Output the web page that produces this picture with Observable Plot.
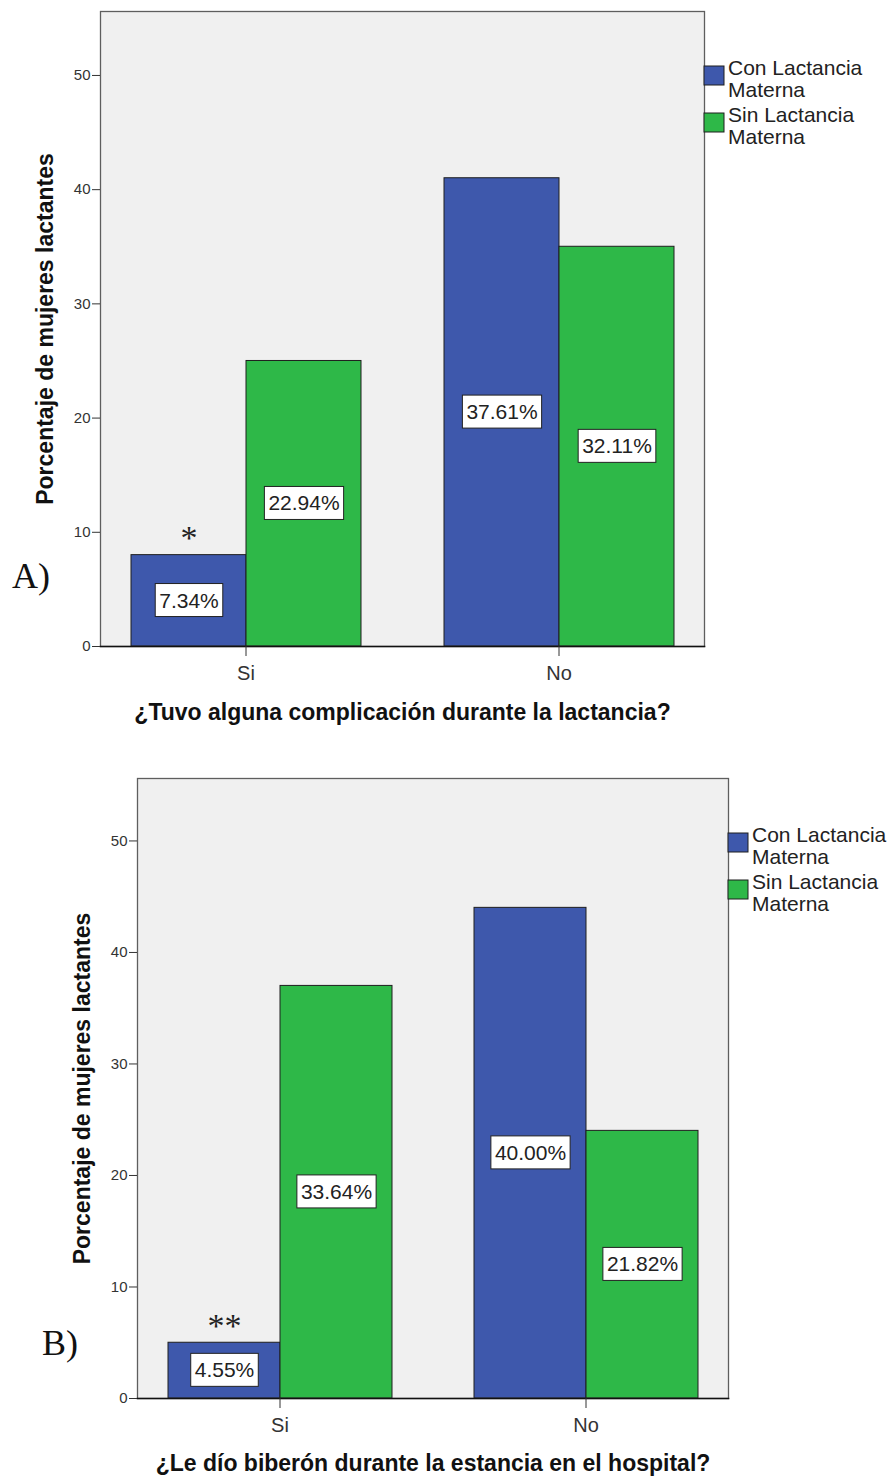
<!DOCTYPE html>
<html>
<head>
<meta charset="utf-8">
<script src="https://cdn.jsdelivr.net/npm/d3@7"></script>
<script src="https://cdn.jsdelivr.net/npm/@observablehq/plot@0.6"></script>
<style>
  body { margin: 0; background: #fff; }
  #root { width: 891px; }
  .chart { display: block; line-height: 0; }
  .chart g[aria-label="y-axis label"] text,
  .chart g[aria-label="fx-axis label"] text { font-weight: bold; font-size: 23px; fill: #111; }
</style>
</head>
<body>
<div id="root"></div>
<script>
// ---------- data ----------
const categories = ["Si", "No"];
const seriesNames = ["Con Lactancia Materna", "Sin Lactancia Materna"];
const seriesColors = ["#3e58ac", "#2eb848"];

// Chart A: ¿Tuvo alguna complicación durante la lactancia?
const titleA = "¿Tuvo alguna complicación durante la lactancia?";
const conA = [8, 41];
const sinA = [25, 35];
const conLabelsA = ["7.34%", "37.61%"];
const sinLabelsA = ["22.94%", "32.11%"];
const notesA = [{cat: "Si", serie: "Con Lactancia Materna", mark: "*"}];
const panelA = "A)";

// Chart B: ¿Le dío biberón durante la estancia en el hospital?
const titleB = "¿Le dío biberón durante la estancia en el hospital?";
const conB = [5, 44];
const sinB = [37, 24];
const conLabelsB = ["4.55%", "40.00%"];
const sinLabelsB = ["33.64%", "21.82%"];
const notesB = [{cat: "Si", serie: "Con Lactancia Materna", mark: "**"}];
const panelB = "B)";

const yLabel = "Porcentaje de mujeres lactantes";
const yTicks = [0, 10, 20, 30, 40, 50];
const yMax = 55.6;

// ---------- drawing ----------
const SANS = "'Liberation Sans', Arial, sans-serif";
const SERIF = "'Liberation Serif', 'Times New Roman', serif";
const root = document.getElementById("root");

function drawChart(cfg) {
  const rows = [];
  categories.forEach((c, i) => {
    rows.push({cat: c, serie: seriesNames[0], value: cfg.con[i], label: cfg.conLabels[i]});
    rows.push({cat: c, serie: seriesNames[1], value: cfg.sin[i], label: cfg.sinLabels[i]});
  });
  const notes = cfg.notes.map(n => ({...n, value: rows.find(r => r.cat === n.cat && r.serie === n.serie).value}));

  const plot = Plot.plot({
    width: 891,
    height: cfg.height,
    marginTop: cfg.marginTop,
    marginBottom: cfg.marginBottom,
    marginLeft: cfg.marginLeft,
    marginRight: cfg.marginRight,
    style: {fontFamily: SANS, background: "#fff", overflow: "visible"},
    fx: {domain: categories, paddingInner: cfg.fxPad, paddingOuter: 0, label: null},
    x: {domain: seriesNames, paddingInner: 0, paddingOuter: cfg.xPad, axis: null},
    y: {domain: [0, yMax], labelArrow: "none"},
    color: {domain: seriesNames, range: seriesColors},
    marks: [
      Plot.frame({facet: "super", fill: "#f0f0f0", stroke: null}),
      Plot.barY(rows, {fx: "cat", x: "serie", y: "value", fill: "serie", stroke: "#1e1e1e", strokeWidth: 1}),
      Plot.frame({facet: "super", stroke: "#5e5e5e", strokeWidth: 1.3}),
      Plot.frame({facet: "super", anchor: "bottom", stroke: "#111", strokeWidth: 1.6}),
      Plot.axisY({ticks: yTicks, tickSize: 8, tickPadding: 2, fontSize: 15, color: "#333",
                  label: yLabel, labelArrow: "none", labelAnchor: "center", labelOffset: 64}),
      Plot.axisFx({anchor: "bottom", tickSize: 10, tickPadding: 9, fontSize: 20, color: "#333",
                   label: cfg.title, labelAnchor: "center", labelOffset: cfg.labelOffsetX}),
      Plot.text(rows, {fx: "cat", x: "serie", y: d => d.value / 2, text: "label", fontSize: 21, fill: "#222"}),
      Plot.text(notes, {fx: "cat", x: "serie", y: "value", text: "mark", fontFamily: SERIF, fontSize: 34,
                        lineAnchor: "bottom", dy: -6, fill: "#222"})
    ]
  });

  const wrap = document.createElement("div");
  wrap.className = "chart";
  wrap.appendChild(plot);
  root.appendChild(wrap);

  const svg = d3.select(plot);

  // white boxes behind the percentage labels
  svg.selectAll("text").filter(function () { return /%$/.test(this.textContent); }).each(function () {
    const node = this;
    const bb = node.getBBox();
    d3.select(node.parentNode).insert("rect", () => node)
      .attr("transform", node.getAttribute("transform"))
      .attr("x", bb.x - 4).attr("y", bb.y - 5)
      .attr("width", bb.width + 8).attr("height", bb.height + 10)
      .attr("fill", "#fff").attr("stroke", "#222").attr("stroke-width", 1);
  });

  // legend on the right of the frame
  const color = plot.scale("color");
  const x0 = 891 - cfg.marginRight;
  const lg = svg.append("g").attr("font-family", SANS).attr("font-size", 21)
    .attr("fill", "#222").attr("text-anchor", "start");
  seriesNames.forEach((name, i) => {
    const top = cfg.marginTop + 55 + i * 47;
    lg.append("rect").attr("x", x0 - 1).attr("y", top).attr("width", 20).attr("height", 19)
      .attr("fill", color.apply(name)).attr("stroke", "#1e1e1e").attr("stroke-width", 1);
    const lines = name.replace(/ (\S+)$/, "\n$1").split("\n");
    const t = lg.append("text").attr("x", x0 + 23).attr("y", top + 9);
    lines.forEach((ln, j) => t.append("tspan").attr("x", x0 + 23).attr("dy", j === 0 ? 0 : 22).text(ln));
  });

  // panel letter
  svg.append("text").attr("x", cfg.panelX).attr("y", cfg.panelY).attr("text-anchor", "start")
    .attr("font-family", SERIF).attr("font-size", 36).attr("fill", "#111").text(cfg.panel);
}

drawChart({
  title: titleA, con: conA, sin: sinA, conLabels: conLabelsA, sinLabels: sinLabelsA, notes: notesA, panel: panelA,
  height: 735, marginTop: 11, marginBottom: 89, marginLeft: 99, marginRight: 186,
  fxPad: 0.07, xPad: 0.259, labelOffsetX: 73, panelX: 12, panelY: 588
});
drawChart({
  title: titleB, con: conB, sin: sinB, conLabels: conLabelsB, sinLabels: sinLabelsB, notes: notesB, panel: panelB,
  height: 742, marginTop: 43, marginBottom: 79, marginLeft: 136, marginRight: 162,
  fxPad: 0.068, xPad: 0.265, labelOffsetX: 72, panelX: 42, panelY: 620
});
</script>
</body>
</html>
